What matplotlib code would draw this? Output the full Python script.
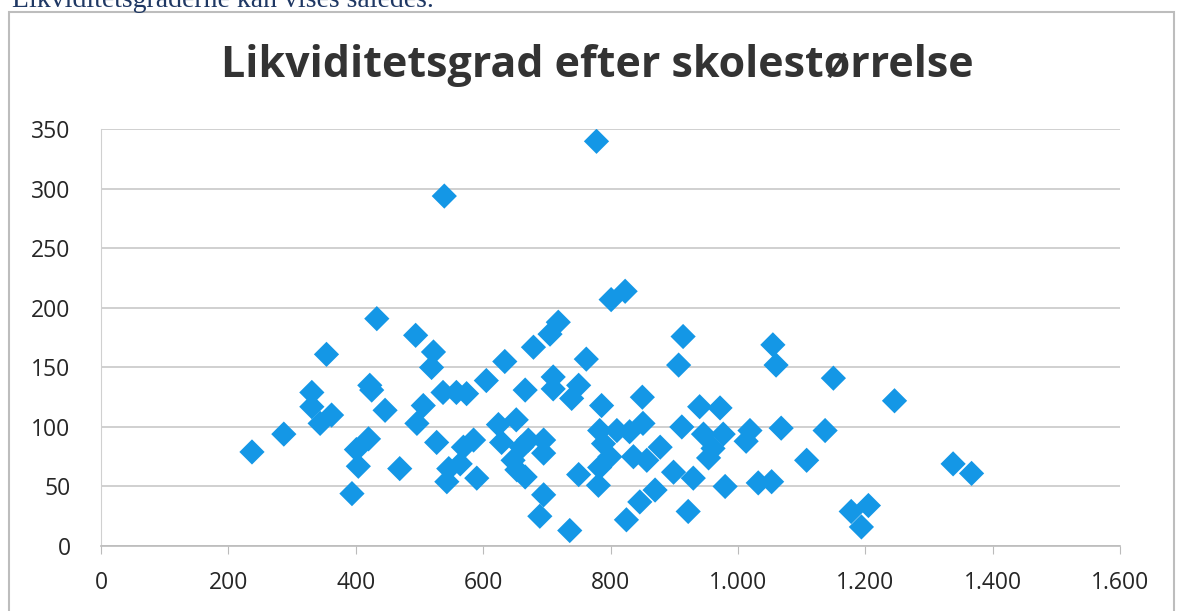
import matplotlib.pyplot as plt
from matplotlib.patches import Rectangle
from matplotlib.ticker import FuncFormatter

# elever pr. skole og likviditetsgrad
skolestorrelse = [237, 287, 331, 331, 344, 362, 354, 394, 401, 404, 420, 422, 425, 433,
                  446, 469, 494, 522, 519, 506, 496, 527, 539, 537, 558, 574, 605, 634,
                  666, 569, 585, 546, 543, 590, 564, 624, 652, 629, 647, 660, 653, 666,
                  671, 679, 705, 718, 762, 710, 710, 750, 739, 778, 801, 823, 914, 907,
                  786, 850, 940, 972, 946, 977, 961, 954, 695, 695, 789, 799, 783, 830,
                  851, 836, 857, 878, 912, 1019, 1013, 1068, 1108, 1137, 750, 781, 899,
                  930, 980, 1032, 1053, 870, 846, 825, 922, 695, 689, 736, 1150, 1246,
                  1338, 1367, 1178, 1205, 1194, 1055, 1060, 783, 810]
likviditetsgrad = [79, 94, 129, 117, 103, 110, 161, 44, 81, 67, 90, 135, 131, 191,
                   114, 65, 177, 163, 150, 118, 103, 87, 294, 129, 129, 128, 139, 155,
                   131, 83, 89, 65, 54, 57, 69, 102, 106, 87, 72, 83, 64, 58,
                   89, 167, 178, 188, 157, 142, 132, 135, 124, 340, 207, 214, 176, 152,
                   118, 125, 117, 116, 94, 94, 82, 74, 89, 78, 86, 75, 66, 96,
                   103, 75, 72, 83, 100, 97, 88, 99, 72, 97, 60, 51, 62,
                   57, 50, 53, 54, 47, 37, 22, 29, 43, 25, 13, 141, 122,
                   69, 61, 29, 34, 16, 169, 152, 97, 97]

xticks = [0, 200, 400, 600, 800, 1000, 1200, 1400, 1600]
yticks = [0, 50, 100, 150, 200, 250, 300, 350]

fig = plt.figure(figsize=(11.82, 6.11), dpi=100)
ax = fig.add_axes([0.0855, 0.1064, 0.862, 0.6818])

ax.scatter(skolestorrelse, likviditetsgrad, marker='D', s=165, color='#1497E6',
           edgecolors='none', zorder=3)

ax.set_xlim(0, 1600)
ax.set_ylim(0, 350)
ax.set_xticks(xticks)
ax.set_yticks(yticks)
ax.xaxis.set_major_formatter(FuncFormatter(lambda v, p: f"{int(v):,}".replace(",", ".")))

ax.grid(axis='y', color='#C8C8C8', linewidth=1.2)
ax.set_axisbelow(True)
for side in ['top', 'right']:
    ax.spines[side].set_visible(False)
ax.spines['left'].set_color('#D0D0D0')
ax.spines['bottom'].set_color('#BBBBBB')
ax.spines['bottom'].set_linewidth(1.2)
ax.tick_params(axis='y', length=0, labelsize=16.5, labelcolor='#262626', pad=22)
ax.tick_params(axis='x', length=6, color='#BBBBBB', direction='out',
               labelsize=16.5, labelcolor='#262626', pad=12)
for lab in ax.get_xticklabels() + ax.get_yticklabels():
    lab.set_family('Open Sans')

fig.text(0.505, 0.893, "Likviditetsgrad efter skolestørrelse", ha='center', va='center',
         fontsize=31, fontweight='bold', color='#333333', family='Open Sans')

# tekst fra dokumentet over diagrammet, delvist skåret af
fig.text(0.01, 1.0, "Likviditetsgraderne kan vises således.", ha='left', va='center',
         fontsize=20, color='#1F3864', family='Liberation Serif')

fig.patches.append(Rectangle((0.008, -0.02), 0.985, 1.0, transform=fig.transFigure,
                             fill=False, edgecolor='#BDBDBD', linewidth=1.5))

fig.savefig("out.png", dpi=100)
